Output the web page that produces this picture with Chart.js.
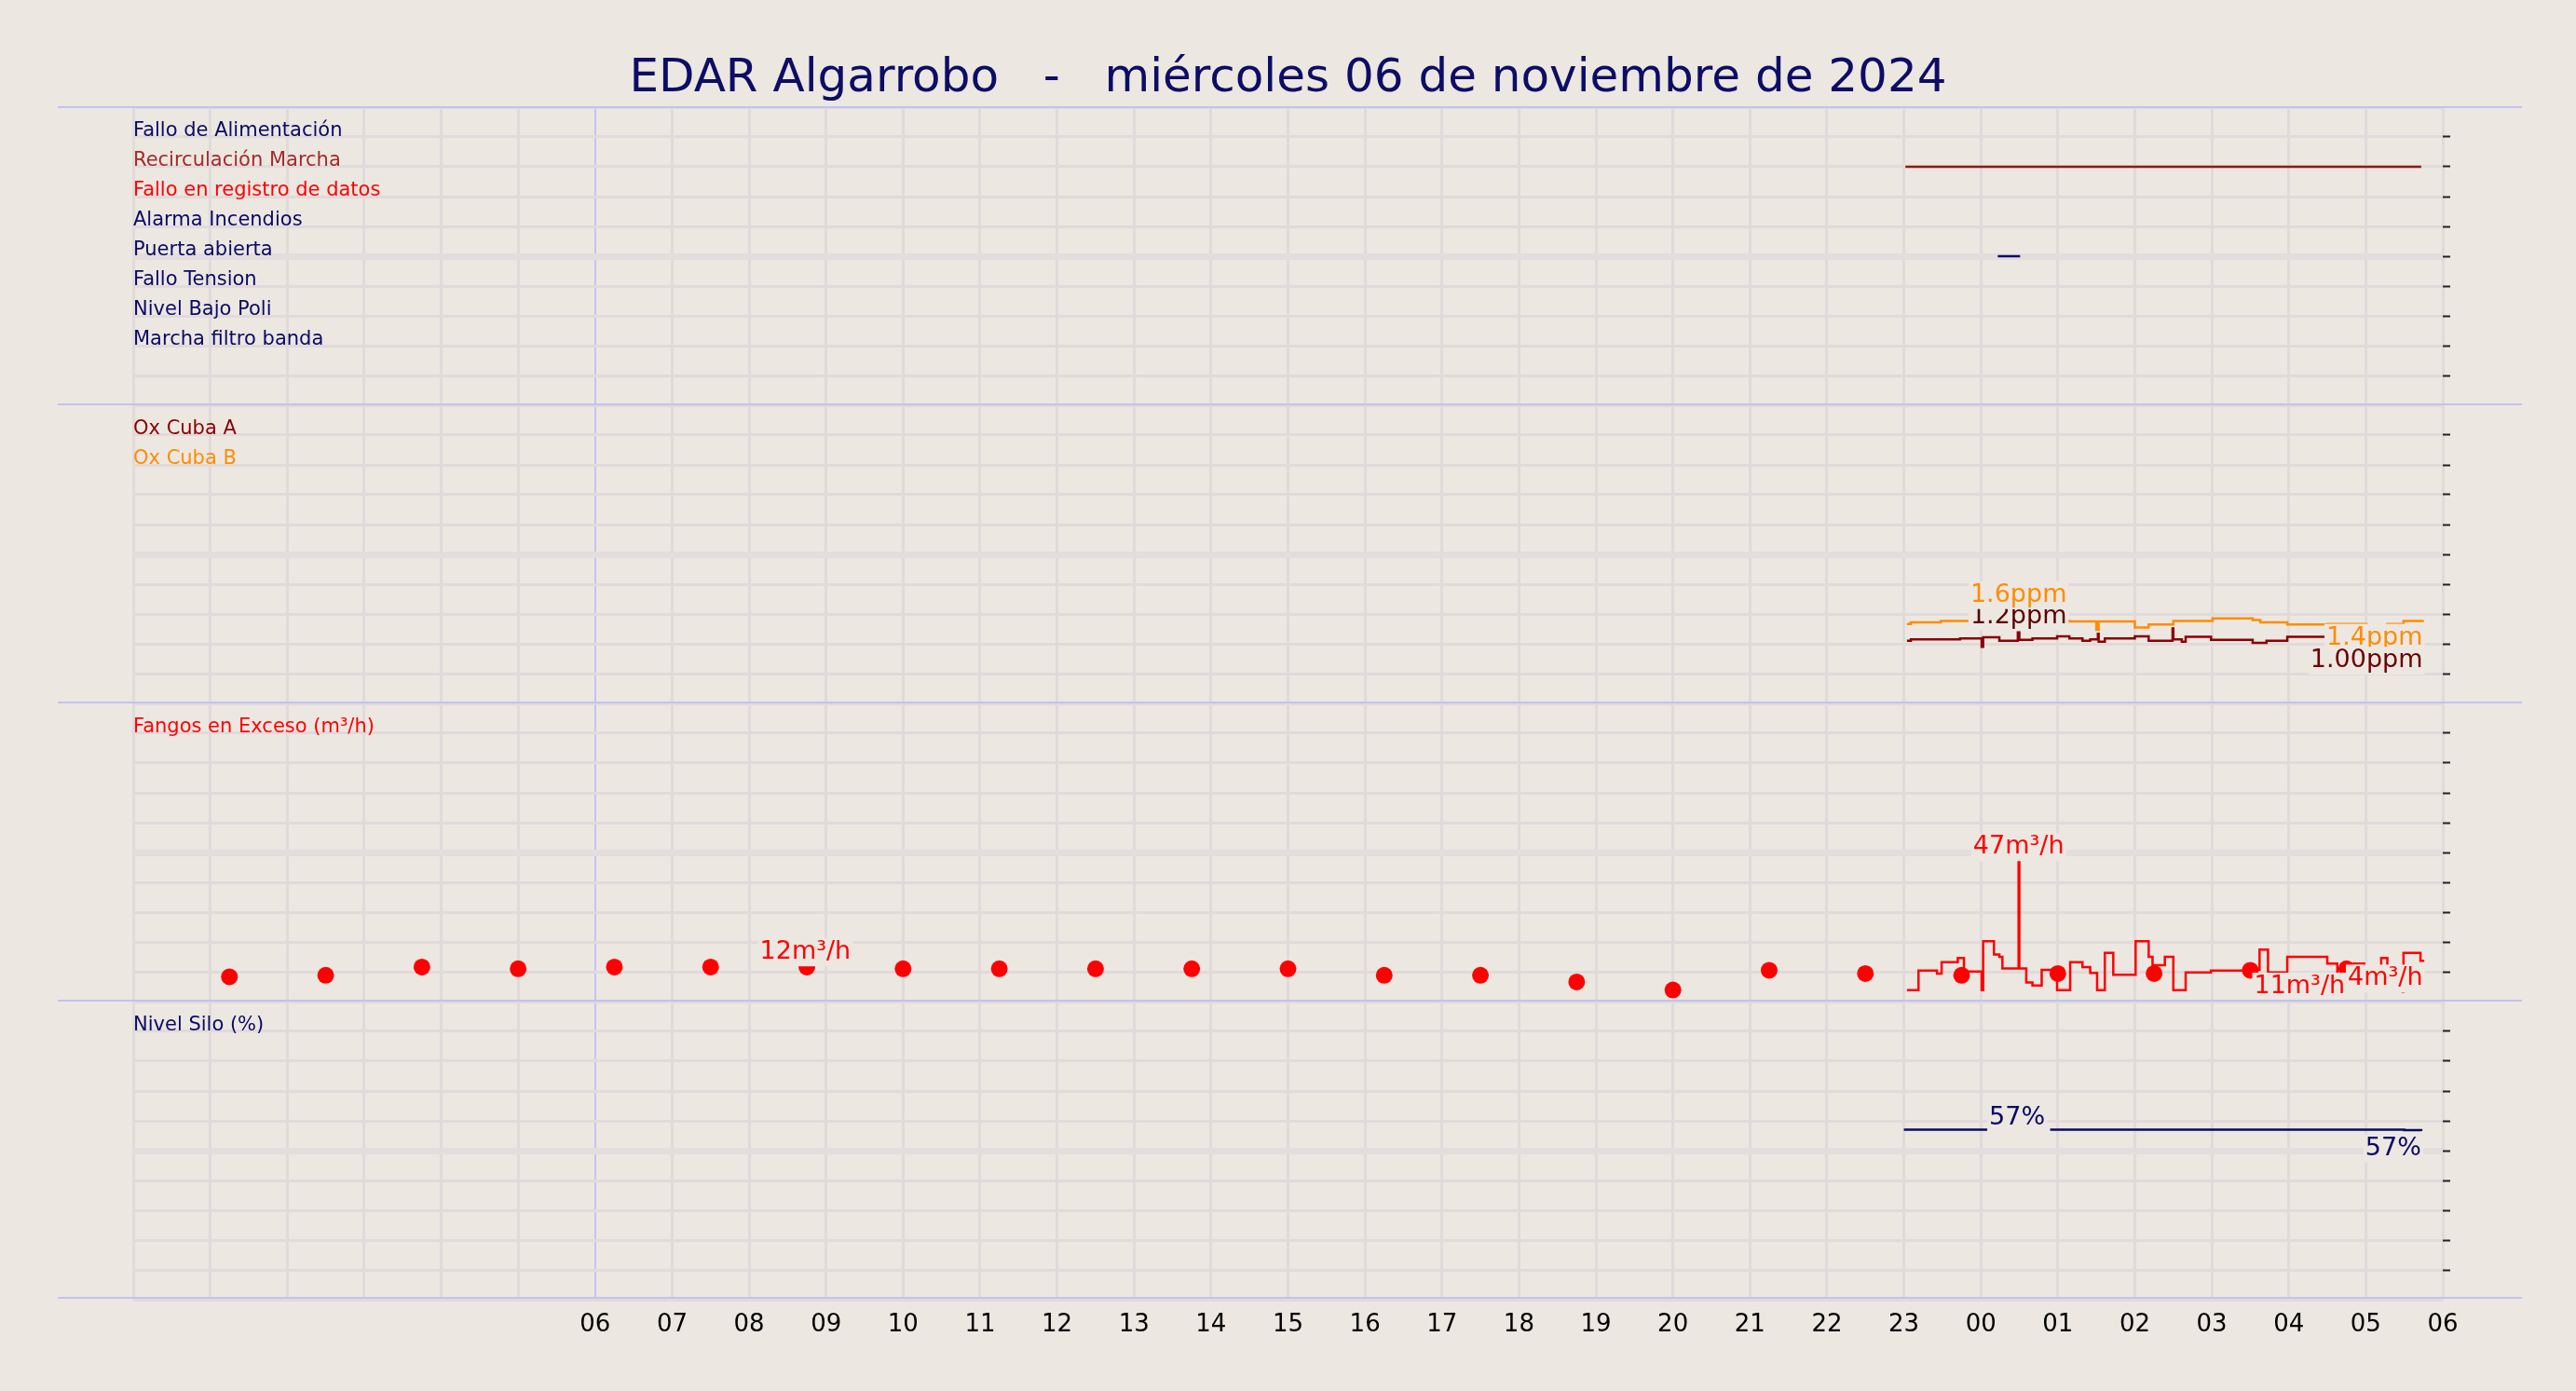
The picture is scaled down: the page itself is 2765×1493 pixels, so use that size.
<!DOCTYPE html>
<html>
<head>
<meta charset="utf-8">
<script src="https://cdn.jsdelivr.net/npm/chart.js@4.4.1/dist/chart.umd.min.js"></script>
<style>
  body { margin: 0; background: #ece7e1; font-family: "DejaVu Sans", sans-serif; }
  #page { position: relative; width: 2765px; height: 1493px; overflow: hidden; }
  #title { position: absolute; top: 52px; left: 0; width: 2765px; text-align: center;
           font-size: 50px; color: #0d0d66; white-space: pre; }
  canvas { position: absolute; left: 0; }
  .sep { position: absolute; left: 62px; width: 2645px; height: 2px; background: #c2c2f2; }
</style>
</head>
<body>
<div id="page">
  <div id="title">EDAR Algarrobo   -   miércoles 06 de noviembre de 2024</div>
</div>
<script>
// x axis is hours since 00:00 of the previous day (6 = 06h, 24 = 00h, 30 = 06h)
const hourTicks = [6, 7, 8, 9, 10, 11, 12, 13, 14, 15, 16, 17, 18, 19, 20, 21, 22, 23, 24, 25, 26, 27, 28, 29, 30];
const hourLabels = ["06", "07", "08", "09", "10", "11", "12", "13", "14", "15", "16", "17", "18", "19", "20", "21", "22", "23", "00", "01", "02", "03", "04", "05", "06"];

// panel 1 - digital signals
const signalNames = ["Fallo de Alimentación", "Recirculación Marcha", "Fallo en registro de datos", "Alarma Incendios",
    "Puerta abierta", "Fallo Tension", "Nivel Bajo Poli", "Marcha filtro banda"];
const signalColors = ["#0a0a66", "#a52a2a", "#ff0000", "#0a0a66", "#0a0a66", "#0a0a66", "#0a0a66", "#0a0a66"];
const recircHours = [23.02, 29.72];
const recircValues = [8, 8];
const puertaHours = [24.22, 24.51];
const puertaValues = [5, 5];

// panel 2 - oxygen
const oxAHours = [23.04, 23.09, 23.73, 24.01, 24.03, 24.24, 24.48, 24.50, 24.67, 24.99, 25.15, 25.32, 25.42, 25.52, 25.53,
    25.61, 26.0, 26.18, 26.49, 26.50, 26.61, 26.66, 26.99, 27.53, 27.71, 27.98, 29.74];
const oxAValues = [1.26, 1.29, 1.31, 1.14, 1.33, 1.26, 1.43, 1.28, 1.31, 1.35, 1.31, 1.26, 1.29, 1.40, 1.24,
    1.31, 1.35, 1.26, 1.51, 1.29, 1.24, 1.34, 1.28, 1.22, 1.26, 1.34, 1.34];
const oxBHours = [23.04, 23.09, 23.48, 25.15, 25.50, 25.53, 26.0, 26.18, 26.5, 27.01, 27.53, 27.63, 27.98, 28.5, 29.01, 29.28, 29.49, 29.74];
const oxBValues = [1.60, 1.63, 1.66, 1.65, 1.48, 1.65, 1.53, 1.59, 1.66, 1.71, 1.68, 1.63, 1.59, 1.60, 1.56, 1.60, 1.66, 1.68];

// panel 3 - fangos en exceso
const fangoDotHours = [1.25, 2.5, 3.75, 5, 6.25, 7.5, 8.75, 10, 11.25, 12.5, 13.75, 15, 16.25, 17.5, 18.75, 20, 21.25, 22.5,
    23.75, 25, 26.25, 27.5, 28.75];
const fangoDotValues = [8.3, 8.8, 11.6, 11, 11.6, 11.6, 11.6, 11, 11, 11, 11, 11, 8.8, 8.8, 6.6, 3.9, 10.5, 9.4,
    8.8, 9.4, 9.4, 10.5, 11];
const fangoHours = [23.04, 23.19, 23.43, 23.49, 23.70, 23.78, 24.01, 24.03, 24.17, 24.24, 24.28, 24.49, 24.50, 24.59, 24.67,
    24.79, 24.99, 25.16, 25.32, 25.42, 25.51, 25.61, 25.72, 26.01, 26.18, 26.23, 26.39, 26.50, 26.66, 26.99, 27.50,
    27.62, 27.73, 27.98, 28.50, 28.63, 28.77, 28.98, 29.06, 29.20, 29.28, 29.48, 29.49, 29.71, 29.76];
const fangoValues = [3.8, 10.4, 9.4, 13.2, 14.6, 10.1, 3.8, 20.2, 15.8, 15.0, 11.1, 47, 11.1, 6.4, 5.4,
    10.6, 3.8, 13.2, 11.6, 9.6, 3.8, 16.3, 9.0, 20.2, 15.0, 12.2, 15.0, 3.8, 9.8, 10.4, 10.6,
    17.4, 9.8, 15.0, 12.7, 9.0, 12.7, 3.8, 4.8, 14.6, 11.6, 3.3, 16.3, 13.7, 13.7];

// panel 4 - nivel silo
const siloHours = [23.0, 24.09, 24.1, 24.9, 28.5, 29.5, 29.72];
const siloValues = [57, 57, null, 57, 57, 56.9, 56.6];

const BG = "#ece7e1";
const GRID = "#e0dada";
const FONT = "DejaVu Sans";
const PLOT_LEFT = 143, PLOT_RIGHT = 2622, PANEL_H = 320;
const panelTops = [115, 435, 755, 1075];

const toXY = (hours, values) => hours.map((h, i) => ({ x: h, y: values[i] }));

// labels drawn at top-left of each panel + value annotations at data coords
const panelText = {
    id: "panelText",
    afterDatasetsDraw(chart, args, opts) {
        const ctx = chart.ctx, area = chart.chartArea;
        ctx.save();
        ctx.font = "21px " + FONT;
        ctx.textBaseline = "middle";
        ctx.textAlign = "left";
        (opts.labels || []).forEach((l, i) => {
            ctx.fillStyle = l.color;
            ctx.fillText(l.text, area.left, area.top + 26 + i * 32);
        });
        ctx.font = "27px " + FONT;
        (opts.notes || []).forEach((n) => {
            const x = chart.scales.x.getPixelForValue(n.h);
            const y = chart.scales.y.getPixelForValue(n.v);
            ctx.textAlign = n.align || "center";
            const w = ctx.measureText(n.text).width;
            const bx = n.align === "right" ? x - w : x - w / 2;
            ctx.fillStyle = BG;
            ctx.fillRect(bx - 2, y - 15, w + 4, 30);
            ctx.fillStyle = n.color;
            ctx.fillText(n.text, x, y);
        });
        ctx.restore();
    },
};

const makePanel = (index, datasets, yMax, labels, notes) => {
    const last = index === 3;
    const axisH = last ? 60 : 0;
    const canvas = document.createElement("canvas");
    canvas.width = 2765;
    canvas.height = PANEL_H + axisH;
    canvas.style.top = panelTops[index] + "px";
    document.getElementById("page").appendChild(canvas);

    new Chart(canvas.getContext("2d"), {
        type: "line",
        data: { datasets },
        plugins: [panelText],
        options: {
            responsive: false,
            animation: false,
            devicePixelRatio: 1,
            layout: { autoPadding: false, padding: { left: PLOT_LEFT, right: 2765 - PLOT_RIGHT, top: 0, bottom: 0 } },
            plugins: {
                legend: { display: false },
                tooltip: { enabled: false },
                panelText: { labels, notes },
            },
            scales: {
                x: {
                    type: "linear", min: 0, max: 30,
                    afterBuildTicks: (scale) => {
                        scale.ticks = Array.from({ length: 31 }, (_, i) => ({ value: i }));
                    },
                    afterFit: (scale) => { scale.height = axisH; },
                    border: { display: false },
                    grid: {
                        drawTicks: false,
                        lineWidth: (c) => (c.tick && c.tick.value === 6 ? 2 : 3),
                        color: (c) => (c.tick && c.tick.value === 6 ? "#c4c4f4" : GRID),
                    },
                    ticks: {
                        display: last,
                        padding: 12,
                        color: "#000",
                        font: { family: FONT, size: 26 },
                        maxRotation: 0,
                        autoSkip: false,
                        callback: (v) => {
                            const i = hourTicks.indexOf(v);
                            return i >= 0 ? hourLabels[i] : "";
                        },
                    },
                },
                y: {
                    position: "right",
                    min: 0, max: yMax,
                    afterBuildTicks: (scale) => {
                        scale.ticks = Array.from({ length: 11 }, (_, i) => ({ value: (yMax * i) / 10 }));
                    },
                    afterFit: (scale) => { scale.width = 0; },
                    border: { display: false },
                    grid: {
                        tickLength: 8,
                        lineWidth: (c) => (c.index === 5 ? 7 : 3),
                        color: (c) => (c.index === 5 ? "#e3dddd" : GRID),
                        tickColor: (c) => (c.index === 0 || c.index === 10 ? "rgba(0,0,0,0)" : "#222"),
                        tickWidth: 2,
                    },
                    ticks: { display: false },
                },
            },
            elements: { point: { radius: 0 } },
        },
    });
};

const stepLine = (data, color) => ({
    data, borderColor: color, borderWidth: 2.5, stepped: true, pointRadius: 0, fill: false, spanGaps: false,
});

makePanel(0, [
    stepLine(toXY(recircHours, recircValues), "#8b1a1a"),
    stepLine(toXY(puertaHours, puertaValues), "#0a0a66"),
], 10, signalNames.map((t, i) => ({ text: t, color: signalColors[i] })), []);

makePanel(1, [
    stepLine(toXY(oxAHours, oxAValues), "#8b0000"),
    stepLine(toXY(oxBHours, oxBValues), "#ff8c00"),
], 6, [{ text: "Ox Cuba A", color: "#8b0000" }, { text: "Ox Cuba B", color: "#ff8c00" }], [
    { h: 24.49, v: 1.75, text: "1.2ppm", color: "#5a0000" },
    { h: 24.49, v: 2.18, text: "1.6ppm", color: "#ff8c00" },
    { h: 29.74, v: 1.32, text: "1.4ppm", color: "#ff8c00", align: "right" },
    { h: 29.74, v: 0.86, text: "1.00ppm", color: "#6a0000", align: "right" },
]);

makePanel(2, [
    stepLine(toXY(fangoHours, fangoValues), "#ff0000"),
    { data: toXY(fangoDotHours, fangoDotValues), showLine: false, pointRadius: 9, pointBackgroundColor: "#ff0000",
      pointBorderWidth: 0 },
], 100, [{ text: "Fangos en Exceso (m³/h)", color: "#ff0000" }], [
    { h: 24.49, v: 51.8, text: "47m³/h", color: "#ff0000" },
    { h: 8.73, v: 16.5, text: "12m³/h", color: "#ff0000" },
    { h: 28.14, v: 5, text: "11m³/h", color: "#ff0000" },
    { h: 29.74, v: 7.7, text: "4m³/h", color: "#ff0000", align: "right" },
]);

makePanel(3, [
    stepLine(toXY(siloHours, siloValues), "#0a0a66"),
], 100, [{ text: "Nivel Silo (%)", color: "#0a0a66" }], [
    { h: 24.47, v: 61, text: "57%", color: "#0a0a66" },
    { h: 29.72, v: 50.7, text: "57%", color: "#0a0a66", align: "right" },
]);

// light blue separators between panels
[115, 434, 754, 1074, 1393].forEach((y) => {
    const d = document.createElement("div");
    d.className = "sep";
    d.style.top = y - 1 + "px";
    document.getElementById("page").appendChild(d);
});
</script>
</body>
</html>
